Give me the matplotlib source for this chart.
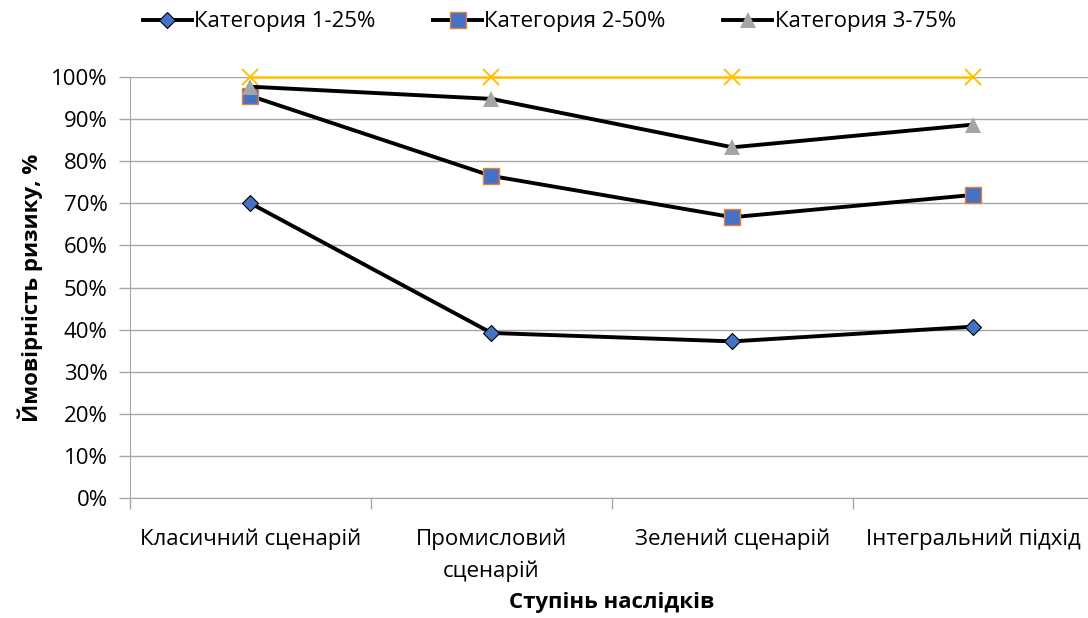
import matplotlib
matplotlib.use("Agg")
import matplotlib.pyplot as plt
from matplotlib.ticker import FixedLocator, PercentFormatter

plt.rcParams['font.family'] = ['Open Sans', 'DejaVu Sans']

categories = ["Класичний сценарій", "Промисловий\nсценарій", "Зелений сценарій", "Інтегральний підхід"]
cat1 = [70.0, 39.2, 37.2, 40.7]
cat2 = [95.5, 76.5, 66.7, 72.0]
cat3 = [97.7, 94.8, 83.3, 88.7]
limit = [100, 100, 100, 100]
series_names = ["Категория 1-25%", "Категория 2-50%", "Категория 3-75%"]
y_ticks = list(range(0, 101, 10))

FS = 16

W, H = 1088, 618
fig = plt.figure(figsize=(W / 100, H / 100), dpi=100)
ax = fig.add_axes([130 / W, (H - 498) / H, 964 / W, 421 / H])

x = list(range(len(categories)))
l1, = ax.plot(x, cat1, color='black', lw=2.8, marker='D', ms=8,
              mfc='#4472C4', mec='black', mew=0.8, zorder=4, clip_on=False)
l2, = ax.plot(x, cat2, color='black', lw=2.8, marker='s', ms=11,
              mfc='#4472C4', mec='#ED7D31', mew=1.0, zorder=4, clip_on=False)
l3, = ax.plot(x, cat3, color='black', lw=2.8, marker='^', ms=12,
              mfc='#A5A5A5', mec='#A5A5A5', mew=0, zorder=4, clip_on=False)
ax.plot(x, limit, color='#FFC000', lw=1.8, marker='x', ms=11, mew=1.4, zorder=3, clip_on=False)

ax.set_xlim(-0.5, len(categories) - 0.5)
ax.set_ylim(0, 100)
ax.yaxis.set_major_locator(FixedLocator(y_ticks))
ax.yaxis.set_major_formatter(PercentFormatter(decimals=0))
ax.grid(axis='y', color='#A6A6A6', lw=1.0)
ax.set_axisbelow(True)

ax.set_xticks(x)
ax.set_xticklabels(categories, fontsize=FS, linespacing=1.65)
ax.xaxis.set_minor_locator(FixedLocator([i - 0.5 for i in range(len(categories) + 1)]))
ax.tick_params(axis='x', which='major', length=0, pad=22)
ax.tick_params(axis='x', which='minor', length=8, color='#A6A6A6', width=1)
ax.tick_params(axis='y', length=8, color='#A6A6A6', width=1, labelsize=FS, pad=8)

for s in ['top', 'right']:
    ax.spines[s].set_visible(False)
ax.spines['left'].set_color('#A6A6A6')
ax.spines['bottom'].set_color('#A6A6A6')

ax.set_ylabel("Ймовірність ризику, %", fontsize=FS, fontweight='bold', labelpad=6)
ax.set_xlabel("Ступінь наслідків", fontsize=FS, fontweight='bold', labelpad=7)

fig.legend([l1, l2, l3], series_names, loc='center left', bbox_to_anchor=(134 / W, 1 - 22 / H),
           ncol=3, frameon=False, fontsize=FS, handlelength=2.2, columnspacing=2.6,
           handletextpad=0.1, borderaxespad=0)

fig.savefig("out.png", dpi=100)
